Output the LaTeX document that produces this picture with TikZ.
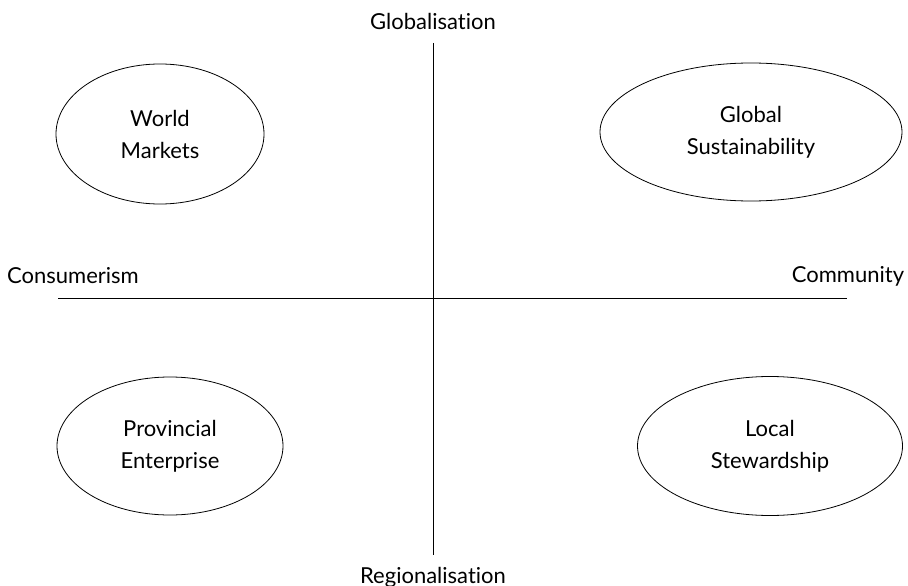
\documentclass[tikz,border=0pt]{standalone}
\usepackage{fontspec}
\setmainfont{Lato}[Ligatures={NoCommon}]
\usetikzlibrary{shapes.geometric}

\begin{document}
\begin{tikzpicture}[x=1pt,y=-1pt,
  scen/.style={draw,ellipse,inner sep=0pt,align=center,line width=0.8pt},
  axis/.style={line width=1pt},
  every node/.append style={font=\fontsize{22}{32}\selectfont}]
  \useasboundingbox (0,0) rectangle (908,586);

  \coordinate (N) at (433,43);
  \coordinate (S) at (433,555);
  \coordinate (W) at (58,298);
  \coordinate (E) at (847,298);

  \draw[axis] (N) -- (S);
  \draw[axis] (W) -- (E);

  \node (glob) at (433,21)  {Globalisation};
  \node (regl) at (433,577) {Regionalisation};
  \node (cons) at (73,276)  {Consumerism};
  \node (comm) at (848,276) {Community};

  \node[scen,minimum width=208,minimum height=140] (wm) at (160,134) {World\\Markets};
  \node[scen,minimum width=302,minimum height=138] (gs) at (751,132) {Global\\Sustainability};
  \node[scen,minimum width=226,minimum height=138] (pe) at (170,446) {Provincial\\Enterprise};
  \node[scen,minimum width=265,minimum height=139] (ls) at (770,446) {Local\\Stewardship};
\end{tikzpicture}
\end{document}
